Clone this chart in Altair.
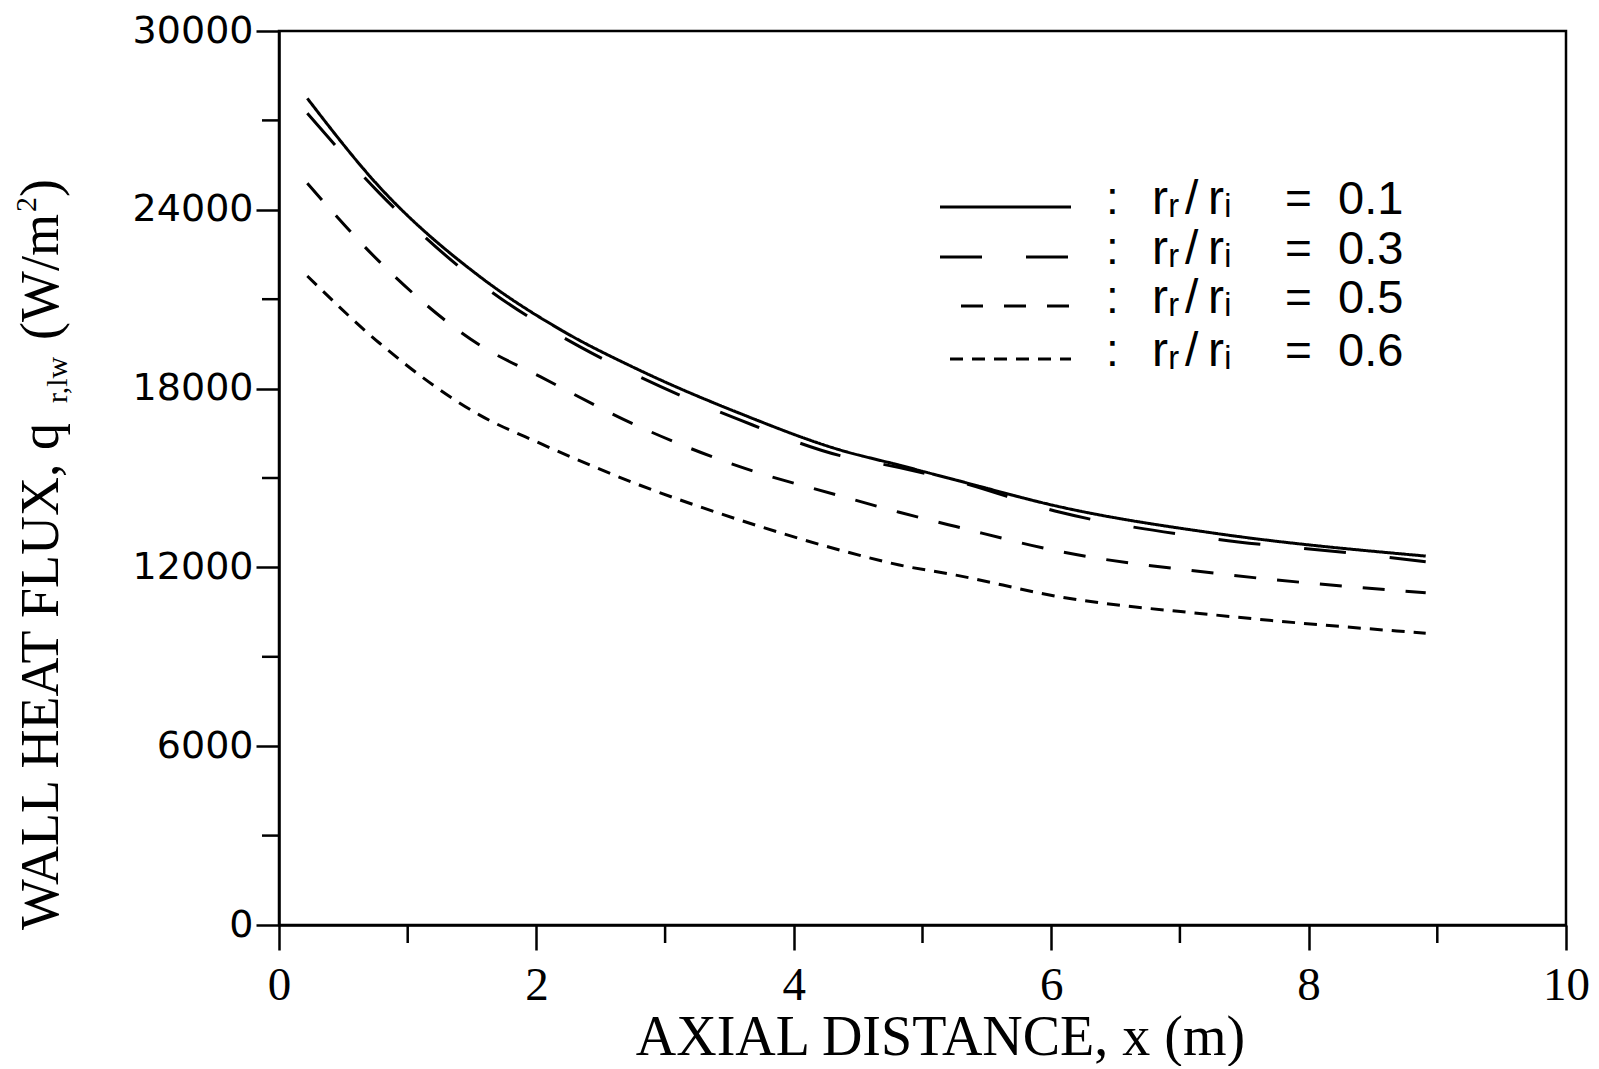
import altair as alt
import pandas as pd

# ---- data ----
series_names = ["0.1", "0.3", "0.5", "0.6"]

x_01 = [0.22, 0.78, 1.56, 2.19, 2.80, 3.58, 4.36, 4.82, 5.26, 6.07, 7.28, 8.91]
q_01 = [27740, 24770, 21760, 19970, 18620, 17170, 15940, 15430, 14930, 14030, 13140, 12380]

x_03 = [0.22, 0.78, 1.56, 2.34, 2.80, 3.58, 4.36, 4.82, 5.26, 6.07, 7.28, 8.40, 8.91]
q_03 = [27240, 24560, 21540, 19400, 18400, 16950, 15750, 15350, 14900, 13850, 12950, 12450, 12190]

x_05 = [0.22, 0.78, 1.56, 2.03, 2.80, 3.58, 4.36, 4.82, 5.26, 6.07, 7.28, 8.91]
q_05 = [24890, 22260, 19460, 18400, 16720, 15380, 14400, 13850, 13370, 12530, 11800, 11150]

x_06 = [0.22, 0.78, 1.56, 2.03, 2.80, 3.58, 4.36, 4.82, 5.26, 6.07, 7.28, 8.91]
q_06 = [21780, 19530, 17110, 16160, 14765, 13590, 12580, 12080, 11740, 11010, 10400, 9790]

x_major_ticks = [0, 2, 4, 6, 8, 10]
x_minor_ticks = [1, 3, 5, 7, 9]
y_major_ticks = [0, 6000, 12000, 18000, 24000, 30000]
y_minor_ticks = [3000, 9000, 15000, 21000, 27000]

legend_labels = ["0.1", "0.3", "0.5", "0.6"]

# ---- build table ----
rows = []
for name, xs, qs in [("0.1", x_01, q_01), ("0.3", x_03, q_03),
                     ("0.5", x_05, q_05), ("0.6", x_06, q_06)]:
    for xv, qv in zip(xs, qs):
        rows.append({"series": name, "x": xv, "q": qv})
df = pd.DataFrame(rows)

dashes = [[1, 0], [42, 44], [22, 21], [13, 9]]
W, H = 1287, 894
LW = 3

xscale = alt.Scale(domain=[0, 10], nice=False)
yscale = alt.Scale(domain=[0, 30000], nice=False)

xaxis = alt.Axis(values=x_major_ticks, title="AXIAL DISTANCE, x (m)", grid=False,
                 format="d", labelFlush=False,
                 labelFont="Liberation Serif", labelFontSize=47, labelPadding=12,
                 labelColor="black", tickSize=25, tickWidth=2.5, tickColor="black",
                 domainColor="black", domainWidth=2.5, orient="bottom",
                 titleFont="Liberation Serif", titleFontSize=56, titleFontWeight="normal",
                 titleColor="black", titleX=661, titleY=129, titleBaseline="alphabetic",
                 titleAlign="center")
yaxis = alt.Axis(values=y_major_ticks, title="", grid=False, orient="left",
                 format="d", labelFlush=False,
                 labelFont="DejaVu Sans", labelFontSize=38, labelPadding=3,
                 labelColor="black", tickSize=23, tickWidth=2.5, tickColor="black",
                 domainColor="black", domainWidth=2.5)

lines = alt.Chart(df).mark_line(color="black", strokeWidth=LW, interpolate="monotone").encode(
    x=alt.X("x:Q", scale=xscale, axis=xaxis),
    y=alt.Y("q:Q", scale=yscale, axis=yaxis),
    strokeDash=alt.StrokeDash("series:N", scale=alt.Scale(domain=series_names, range=dashes),
                              legend=None),
    detail="series:N",
)

xminor = alt.Chart(pd.DataFrame({"x": x_minor_ticks})).mark_rule(
    color="black", strokeWidth=2.5).encode(
    x=alt.X("x:Q", scale=xscale, axis=xaxis), y=alt.value(H), y2=alt.value(H + 18))

yminor = alt.Chart(pd.DataFrame({"q": y_minor_ticks})).mark_rule(
    color="black", strokeWidth=2.5).encode(
    y=alt.Y("q:Q", scale=yscale, axis=yaxis), x=alt.value(-17), x2=alt.value(0))

layers = [lines, xminor, yminor]

# ---- legend (drawn by hand) ----
leg_line_y = [176, 226, 275, 328]
leg_line_x0 = [661, 661, 682, 671]
leg_line_x1 = 792
for i, lab in enumerate(legend_labels):
    ly = leg_line_y[i]
    by = ly + 7
    layers.append(alt.Chart(pd.DataFrame({"t": [lab]})).mark_rule(
        color="black", strokeWidth=LW, strokeDash=dashes[i]).encode(
        x=alt.value(leg_line_x0[i]), x2=alt.value(leg_line_x1), y=alt.value(ly)))
    for txt, px, fs in [(":", 827, 46), ("rᵣ", 873, 48), ("/", 906, 48), ("rᵢ", 929, 48),
                        ("=", 1006, 46), (lab, 1059, 47)]:
        layers.append(alt.Chart(pd.DataFrame({"t": [txt]})).mark_text(
            font="Liberation Sans, DejaVu Sans", fontSize=fs, color="black",
            align="left", baseline="alphabetic").encode(
            text="t:N", x=alt.value(px), y=alt.value(by)))

# ---- y axis title with sub/superscripts ----
ytitle_parts = [
    ("WALL HEAT FLUX, q", 54, -221, 899),
    ("r,lw", 30, -212, 372),
    ("(W/m", 54, -221, 309),
    ("2", 30, -243, 181),
    (")", 54, -221, 166),
]
for txt, fs, px, py in ytitle_parts:
    layers.append(alt.Chart(pd.DataFrame({"t": [txt]})).mark_text(
        font="Liberation Serif", fontSize=fs, color="black", angle=270,
        align="left", baseline="alphabetic").encode(
        text="t:N", x=alt.value(px), y=alt.value(py)))

chart = alt.layer(*layers).properties(
    width=W, height=H,
    autosize=alt.AutoSizeParams(type="none"),
    padding={"left": 271, "top": 23, "right": 25, "bottom": 141},
).configure_view(stroke="black", strokeWidth=2.5)

chart.save("out.html", embed_options={"renderer": "svg", "actions": False})
